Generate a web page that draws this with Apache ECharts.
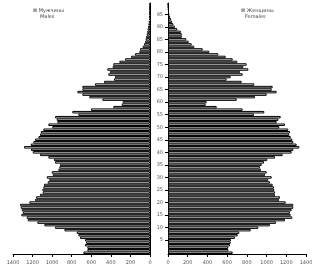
<!DOCTYPE html>
<html>
<head>
<meta charset="utf-8">
<script src="https://cdn.jsdelivr.net/npm/echarts@6/dist/echarts.min.js"></script>
<style>
html,body{margin:0;padding:0;background:#fff;}
#c{width:317px;height:271px;}
</style>
</head>
<body>
<div id="c"></div>
<script>
// Age categories (single years)
const ages = [0,1,2,3,4,5,6,7,8,9,10,11,12,13,14,15,16,17,18,19,20,21,22,23,24,25,26,27,28,29,30,31,32,33,34,35,36,37,38,39,40,41,42,43,44,45,46,47,48,49,50,51,52,53,54,55,56,57,58,59,60,61,62,63,64,65,66,67,68,69,70,71,72,73,74,75,76,77,78,79,80,81,82,83,84,85,86,87,88,89,90,91,92,93,94,95,96,97,98,99];

// Males by age (0..99)
const males = [681,640,640,664,654,664,715,732,749,875,
  970,1080,1151,1249,1260,1315,1300,1311,1321,1328,
  1233,1175,1164,1124,1096,1100,1090,1083,1045,1029,
  1055,994,1004,937,926,919,970,981,1039,1124,
  1198,1216,1287,1219,1192,1175,1140,1124,1116,1090,
  998,1039,947,953,970,732,794,603,375,289,
  279,487,620,691,742,691,691,562,470,368,
  358,426,409,436,381,375,313,255,194,153,
  109,102,75,61,50,44,40,33,28,24,
  20,16,13,10,8,6,4,3,2,1];

// Females by age (0..99)
const females = [656,612,612,629,636,639,679,707,723,839,
  916,1034,1095,1187,1261,1244,1237,1254,1271,1271,
  1194,1126,1136,1085,1085,1078,1075,1062,1034,1017,
  1052,984,1001,943,933,950,974,1007,1085,1163,
  1254,1271,1332,1305,1271,1261,1245,1230,1237,1220,
  1129,1187,1102,1119,1143,872,977,757,494,382,
  392,697,882,1001,1102,1052,1062,875,747,595,
  636,757,730,815,764,798,703,656,585,510,
  419,352,267,240,210,185,140,140,130,95,
  70,55,42,30,22,15,10,7,4,2];

// Axis ticks
const xMax = 1400;
const xStep = 200;
const ageLabelStep = 5;

// Texts
const seriesNames = ['Мужчины', 'Женщины'];
const panelTitles = ['Males', 'Females'];

const chart = echarts.init(document.getElementById('c'), null, {renderer: 'canvas'});

const showAge = (idx, val) => (Number(val) % ageLabelStep === 0 && Number(val) !== 0);

const txt = {fontSize: 5, fontWeight: 'normal', color: '#444', fontFamily: 'DejaVu Sans'};

const xAxisCommon = {
  type: 'value', min: 0, max: xMax, interval: xStep,
  axisLine: {show: true, lineStyle: {color: '#000', width: 1}},
  axisTick: {show: true, length: 3, lineStyle: {color: '#000'}},
  axisLabel: {fontSize: 5, color: '#555', margin: 6, fontFamily: 'DejaVu Sans', formatter: v => String(v)},
  splitLine: {show: false}
};

const barStyle = {color: '#fff', borderColor: '#000', borderWidth: 1};

chart.setOption({
  animation: false,
  backgroundColor: '#fff',
  title: [
    {text: '⊠ ' + seriesNames[0], left: 28, top: 3, textStyle: txt},
    {text: panelTitles[0], left: 35, top: 9, textStyle: txt},
    {text: '⊠ ' + seriesNames[1], left: 236, top: 3, textStyle: txt},
    {text: panelTitles[1], left: 240, top: 9, textStyle: txt}
  ],
  grid: [
    {left: 13, width: 137, top: 3, height: 251},
    {left: 168, width: 138, top: 3, height: 251}
  ],
  xAxis: [
    Object.assign({gridIndex: 0, inverse: true}, xAxisCommon),
    Object.assign({gridIndex: 1}, xAxisCommon)
  ],
  yAxis: [
    {gridIndex: 0, type: 'category', data: ages, position: 'right',
     axisLine: {show: true, lineStyle: {color: '#000'}},
     axisTick: {show: false}, axisLabel: {show: false}},
    {gridIndex: 1, type: 'category', data: ages, position: 'left',
     axisLine: {show: true, lineStyle: {color: '#000'}},
     axisTick: {show: true, alignWithLabel: true, length: 3, interval: showAge, lineStyle: {color: '#000'}},
     axisLabel: {show: true, interval: showAge, fontSize: 5, color: '#555', margin: 5, fontFamily: 'DejaVu Sans'}}
  ],
  series: [
    {name: seriesNames[0], type: 'bar', xAxisIndex: 0, yAxisIndex: 0, data: males,
     barWidth: '100%', itemStyle: barStyle},
    {name: seriesNames[1], type: 'bar', xAxisIndex: 1, yAxisIndex: 1, data: females,
     barWidth: '100%', itemStyle: barStyle}
  ]
});
</script>
</body>
</html>
